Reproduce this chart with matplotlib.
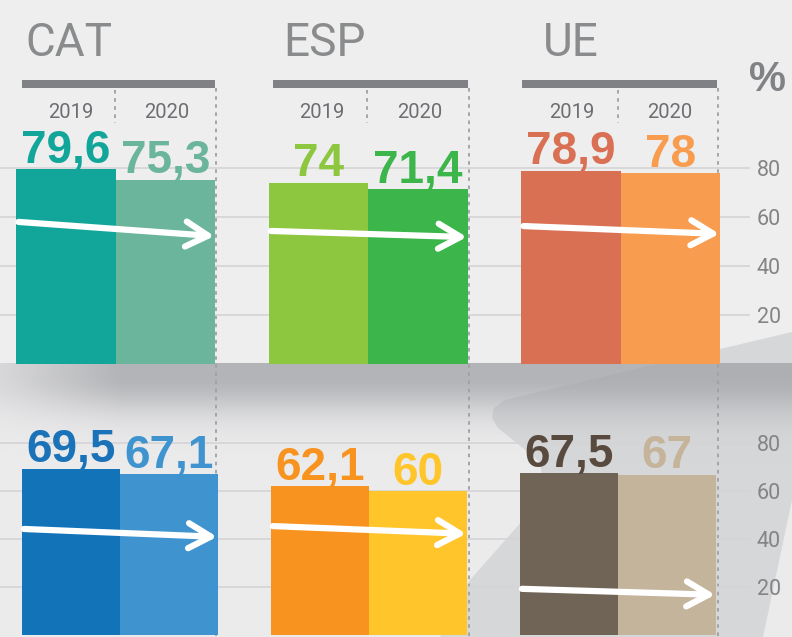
import numpy as np
import matplotlib.pyplot as plt
from matplotlib.patches import Polygon, Rectangle

# ===================== data =====================
groups = ["CAT", "ESP", "UE"]
years = ["2019", "2020"]

top_2019 = [79.6, 74.0, 78.9]
top_2020 = [75.3, 71.4, 78.0]
bottom_2019 = [69.5, 62.1, 67.5]
bottom_2020 = [67.1, 60.0, 67.0]

top_colors_2019 = ["#12a69a", "#8dc63f", "#d96f53"]
top_colors_2020 = ["#6bb59d", "#3cb54a", "#f89c4f"]
bottom_colors_2019 = ["#1273b9", "#f7931e", "#6f6456"]
bottom_colors_2020 = ["#3f94d0", "#ffc52a", "#c4b49b"]
bottom_text_2019 = ["#1a72b8", "#f7931e", "#594a3f"]
bottom_text_2020 = ["#3f94d0", "#ffc52a", "#c5b49a"]

# trend arrows (start value, end value)
top_arrows = [(58.0, 52.2), (54.3, 51.8), (56.3, 53.1)]
bottom_arrows = [(44.3, 41.0), (45.5, 42.3), (19.3, 16.8)]

yticks = [20, 40, 60, 80]

W, H = 792, 637
fig = plt.figure(figsize=(W / 100, H / 100), dpi=100)
fig.patch.set_facecolor("#eeeeee")

LIGHT = dict(family=["Roboto", "DejaVu Sans"], fontweight="light")
REG = dict(family=["Roboto", "DejaVu Sans"], fontweight="normal")
NUM = dict(family=["Liberation Sans", "DejaVu Sans"], fontweight="bold")

# ===================== background (pixel coords) =====================
bg = fig.add_axes([0, 0, 1, 1], zorder=0)
bg.set_xlim(0, W)
bg.set_ylim(H, 0)
bg.axis("off")

bg.add_patch(Rectangle((0, 363), W, H - 363, color="#ebebec", zorder=1))
bg.add_patch(Polygon([(792, 332), (505, 400), (494, 408), (492, 418), (498, 428),
                      (540, 462), (545, 495), (470, 580), (440, 637),
                      (763, 637), (792, 500)],
                     closed=True, color="#d6d7d9", lw=0, zorder=2))

# shadow band between the two panels
ys = np.linspace(363, 465, 140)
xs = np.linspace(0, W, 200)
a_y = np.where(ys < 375, 0.78, 0.78 * np.exp(-((ys - 375) ** 2) / (2 * 27 ** 2)))
a_x = 0.35 + 0.65 * np.clip(xs / 120, 0, 1)
alpha = a_y[:, None] * a_x[None, :]
img = np.zeros((len(ys), len(xs), 4))
img[..., 0], img[..., 1], img[..., 2] = 0.64, 0.645, 0.66
img[..., 3] = alpha
bg.imshow(img, extent=(0, W, 465, 363), aspect="auto", interpolation="bilinear", zorder=3)

# headers, rules and year labels
header_x = [25, 283, 543]
rule_x = [(22, 215), (273, 468), (522, 717)]
mid_x = [115, 367, 618]
edge_x = [216, 469, 718]
for i, g in enumerate(groups):
    bg.text(header_x[i], 56, g, fontsize=33, color="#8a8b8d", ha="left", va="baseline", **REG)
    x0, x1 = rule_x[i]
    bg.add_patch(Rectangle((x0, 80), x1 - x0, 8, color="#808184", lw=0, zorder=5))
    bg.plot([mid_x[i], mid_x[i]], [90, 123], color="#a0a0a2", lw=1.3,
            dashes=(2, 2.5), zorder=5)
    bg.plot([edge_x[i], edge_x[i]], [88, H], color="#a0a0a2", lw=1.3,
            dashes=(2, 2.5), zorder=5)
    bg.text((x0 + mid_x[i]) / 2 + 2, 112, years[0], fontsize=14.5, color="#6d6e71",
            ha="center", va="center", **REG)
    bg.text((mid_x[i] + x1) / 2 + 2, 112, years[1], fontsize=14.5, color="#6d6e71",
            ha="center", va="center", **REG)

bg.text(768, 80, "%", fontsize=30, color="#808285", ha="center", va="center", **NUM)


# ===================== bar panels =====================
def panel(rect, xlim, ylim, v19, v20, c19, c20, t19, t20, arrows):
    ax = fig.add_axes(rect, zorder=1)
    ax.patch.set_alpha(0)
    ax.set_xlim(*xlim)
    ax.set_ylim(*ylim)
    width = 0.394
    x = np.arange(len(groups))
    ax.bar(x - width / 2, v19, width=width, color=c19, zorder=3)
    ax.bar(x + width / 2, v20, width=width, color=c20, zorder=3)
    for i in range(len(groups)):
        for xi, v, col in [(x[i] - width / 2, v19[i], t19[i]), (x[i] + width / 2, v20[i], t20[i])]:
            ax.annotate(f"{v:g}".replace(".", ","), xy=(xi, v), xytext=(0, 4.5),
                        textcoords="offset points", ha="center", va="baseline",
                        fontsize=33, color=col, zorder=4, **NUM)
        y0, y1 = arrows[i]
        ax.annotate("", xy=(x[i] + width - 0.004, y1), xytext=(x[i] - width + 0.008, y0),
                    arrowprops=dict(arrowstyle="->,head_length=0.8,head_width=0.45",
                                    lw=4.5, color="white", mutation_scale=20,
                                    shrinkA=0, shrinkB=0),
                    zorder=5)
    ax.set_yticks(yticks)
    ax.set_yticklabels([str(t) for t in yticks], color="#838486", fontsize=15.5, **REG)
    ax.yaxis.tick_right()
    ax.tick_params(axis="y", length=0, pad=5)
    ax.set_xticks([])
    ax.grid(axis="y", color="#d4d4d6", lw=1.2, zorder=0)
    ax.set_axisbelow(True)
    for s in ax.spines.values():
        s.set_visible(False)
    return ax


# top panel: zero line at pixel 364, 2.45 px per unit
panel([0, (H - 364) / H, 750 / W, (364 - 125) / H], (-0.459, 2.511), (0, 239 / 2.45),
      top_2019, top_2020, top_colors_2019, top_colors_2020,
      top_colors_2019, top_colors_2020, top_arrows)

# bottom panel: zero line at pixel 639, 2.4375 px per unit
panel([0, 0, 750 / W, (H - 415) / H], (-0.482, 2.530), (-2 / 2.4375, 224 / 2.4375),
      bottom_2019, bottom_2020, bottom_colors_2019, bottom_colors_2020,
      bottom_text_2019, bottom_text_2020, bottom_arrows)

plt.savefig("out.png", dpi=100)
plt.close()
